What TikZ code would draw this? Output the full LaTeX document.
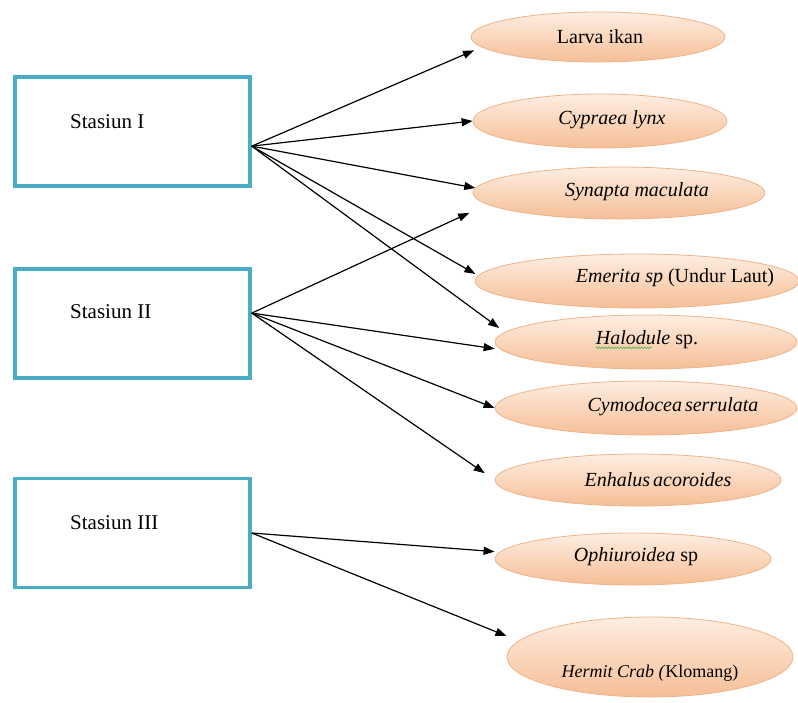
\documentclass[tikz,border=0pt]{standalone}
\usepackage{fontspec}
\setmainfont{Liberation Serif}
\usetikzlibrary{arrows.meta,shapes.geometric,decorations.pathmorphing}
\definecolor{boxblue}{HTML}{4BACC6}
\definecolor{peachtop}{HTML}{FDEEE3}
\definecolor{peachmid}{HTML}{FAD6BB}
\definecolor{peachbot}{HTML}{F5BE96}
\definecolor{peachline}{HTML}{EDB48A}
\definecolor{spellgreen}{HTML}{4CAF50}
\begin{document}
\begin{tikzpicture}[x=1pt,y=-1pt,
  stationbox/.style={draw=boxblue,line width=3.5pt,fill=white,minimum width=235pt,minimum height=109pt,inner sep=0pt},
  species/.style={ellipse,draw=peachline,line width=0.8pt,top color=peachtop,bottom color=peachbot,middle color=peachmid,inner sep=0pt},
  lbl/.style={font=\fontsize{20}{24}\selectfont,inner sep=0pt},
  stlbl/.style={font=\fontsize{21}{25}\selectfont,inner sep=0pt,anchor=west},
  link/.style={line width=1.2pt,-{Triangle[length=11pt,width=8pt]}}]
\path[use as bounding box] (0,0) rectangle (798,702);
% station boxes
\node[stationbox] (b1) at (132.5,131.5) {};
\node[stationbox] (b2) at (132.5,323.5) {};
\node[stationbox] (b3) at (132.5,533) {};
\node[stlbl] (s1) at (70,122) {Stasiun I};
\node[stlbl] (s2) at (70,312) {Stasiun II};
\node[stlbl] (s3) at (70,523) {Stasiun III};
% species ellipses
\node[species,minimum width=254pt,minimum height=50pt] (e1) at (598,37) {};
\node[species,minimum width=254pt,minimum height=54pt] (e2) at (600,121) {};
\node[species,minimum width=292pt,minimum height=52pt] (e3) at (619,193) {};
\node[species,minimum width=324pt,minimum height=54pt] (e4) at (637,281) {};
\node[species,minimum width=302pt,minimum height=54pt] (e5) at (646,342) {};
\node[species,minimum width=302pt,minimum height=54pt] (e6) at (646,408) {};
\node[species,minimum width=286pt,minimum height=52pt] (e7) at (638,480) {};
\node[species,minimum width=276pt,minimum height=52pt] (e8) at (633,559) {};
\node[species,minimum width=286pt,minimum height=80pt] (e9) at (650,657) {};
% species labels
\node[lbl] (l1) at (600,37) {Larva ikan};
\node[lbl] (l2) at (612,120) {\textit{Cypraea lynx}};
\node[lbl] (l3) at (637,192) {\textit{Synapta maculata}};
\node[lbl] (l4) at (675,278) {\textit{Emerita sp} (Undur Laut)};
\node[lbl] (l5) at (647,340) {\textit{Halodule} sp.};
\node[lbl] (l6) at (673,407) {\textit{Cymodocea\hspace{-2pt} serrulata}};
\node[lbl] (l7) at (658,480) {\textit{Enhalus\hspace{-2pt} acoroides}};
\node[lbl] (l8) at (636,557) {\textit{Ophiuroidea} sp};
\node[lbl,font=\fontsize{18}{22}\selectfont] (l9) at (650,673) {\textit{Hermit Crab (}Klomang)};
\draw[spellgreen,line width=0.6pt,decorate,decoration={snake,amplitude=0.9pt,segment length=3pt}]
  ([yshift=-3pt]l5.base west) -- ++(56,0);
% connectors
\draw[link,shorten >=8pt] (b1.-7.4) -- (e1.185);
\draw[link] (b1.-7.4) -- (e2.west);
\draw[link] (b1.-7.4) -- (e3.178);
\draw[link,shorten >=3pt] (b1.-7.4) -- (e4.178);
\draw[link,shorten >=7pt] (b1.-7.4) -- (e5.176.6);
\draw[link,shorten >=20pt] (b2.5) -- (e3.185.4);
\draw[link,shorten >=6pt] (b2.5) -- (e5.183);
\draw[link] (b2.5) -- (e6.west);
\draw[link,shorten >=12pt] (b2.5) -- (e7.west);
\draw[link,shorten >=5pt] (b3.east) -- (e8.177);
\draw[link,shorten >=13pt] (b3.east) -- (e9.173.3);
\end{tikzpicture}
\end{document}
